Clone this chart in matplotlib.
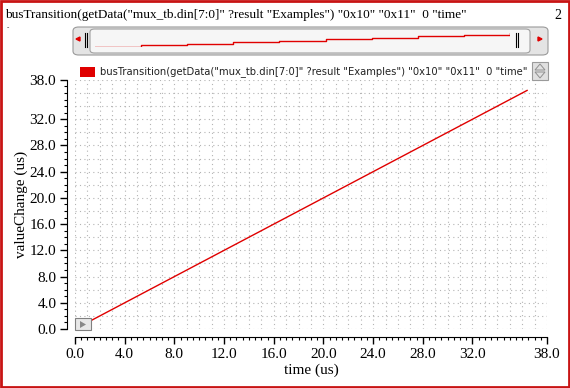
import matplotlib
matplotlib.use("Agg")
import matplotlib.pyplot as plt
from matplotlib.patches import FancyBboxPatch, Rectangle, Polygon
from matplotlib.ticker import FixedLocator, MultipleLocator, FormatStrFormatter

# --- dados ---
expr = 'busTransition(getData("mux_tb.din[7:0]" ?result "Examples") "0x10" "0x11"  0 "time"'
tempo = [0.4, 4.4, 8.4, 12.4, 16.4, 20.4, 24.4, 28.4, 32.4, 36.4]        # us
valor = [0.4, 4.4, 8.4, 12.4, 16.4, 20.4, 24.4, 28.4, 32.4, 36.4]        # us
xlim = (0.0, 38.0)
ylim = (0.0, 38.0)
ticks_x = [0, 4, 8, 12, 16, 20, 24, 28, 32, 38]
ticks_y = [0, 4, 8, 12, 16, 20, 24, 28, 32, 38]
cor = "#e00000"
serif = "Liberation Serif"

fig = plt.figure(figsize=(5.7, 3.88), dpi=100)
fig.patch.set_facecolor("white")

# borda vermelha
fig.patches.append(Rectangle((0.002, 0.003), 0.996, 0.994, transform=fig.transFigure,
                             fill=False, edgecolor="#c81414", linewidth=2))

# titulo
fig.text(0.009, 0.978, expr, family=serif, fontsize=9.5, va="top", ha="left")
fig.text(0.985, 0.978, "2", family=serif, fontsize=10, va="top", ha="right")
fig.text(0.012, 0.935, "-", family=serif, fontsize=5, va="top", ha="left")

# barra de rolagem
W, H = 570.0, 388.0
def fx(px): return px / W
def fy(py): return 1 - py / H

fig.patches.append(FancyBboxPatch((fx(73), fy(55)), fx(548) - fx(73), fy(27) - fy(55),
                                  boxstyle="round,pad=0,rounding_size=0.01",
                                  transform=fig.transFigure, facecolor="#e4e4e4",
                                  edgecolor="#9a9a9a", linewidth=0.8))
fig.patches.append(FancyBboxPatch((fx(90), fy(53)), fx(530) - fx(90), fy(29) - fy(53),
                                  boxstyle="round,pad=0,rounding_size=0.008",
                                  transform=fig.transFigure, facecolor="#f6f6f6",
                                  edgecolor="#a0a0a0", linewidth=0.8))
for px in (84.5, 86.5, 515.5, 517.5):
    fig.add_artist(plt.Line2D([fx(px), fx(px)], [fy(33), fy(47)], transform=fig.transFigure,
                              color="black", linewidth=0.8))
fig.patches.append(Polygon([(fx(76), fy(39)), (fx(80), fy(37)), (fx(80), fy(41))],
                           transform=fig.transFigure, facecolor=cor, edgecolor=cor))
fig.patches.append(Polygon([(fx(542), fy(39)), (fx(538), fy(37)), (fx(538), fy(41))],
                           transform=fig.transFigure, facecolor=cor, edgecolor=cor))

mini = fig.add_axes([fx(95), fy(47), fx(510) - fx(95), fy(33) - fy(47)], zorder=5)
mini.step(tempo, valor, where="post", color=cor, linewidth=1)
mini.set_xlim(tempo[0], tempo[-1])
mini.set_ylim(tempo[0], tempo[-1])
mini.patch.set_visible(False)
mini.axis("off")

# grafico principal
ax = fig.add_axes([0.1316, 0.152, 0.828, 0.642])
ax.plot(tempo, valor, color=cor, linewidth=1)
ax.set_xlim(*xlim)
ax.set_ylim(*ylim)

ax.xaxis.set_major_locator(FixedLocator(ticks_x))
ax.xaxis.set_minor_locator(MultipleLocator(0.5))
ax.yaxis.set_major_locator(FixedLocator(ticks_y))
ax.yaxis.set_minor_locator(MultipleLocator(1))
ax.xaxis.set_major_formatter(FormatStrFormatter("%.1f"))
ax.yaxis.set_major_formatter(FormatStrFormatter("%.1f"))

ax.spines["top"].set_visible(False)
ax.spines["right"].set_visible(False)
ax.spines["left"].set_position(("outward", 6))
ax.spines["bottom"].set_position(("outward", 6))
ax.tick_params(which="major", direction="out", length=5, width=1, labelsize=11, pad=2.5)
ax.tick_params(which="minor", direction="out", length=2.5, width=0.8)
for lab in ax.get_xticklabels() + ax.get_yticklabels():
    lab.set_family(serif)

# grade pontilhada
for xv in range(0, 39):
    ax.axvline(xv, color="#b4b4b4", linestyle=(0, (1, 3)), linewidth=0.8, zorder=0)
for yv in range(0, 39, 2):
    ax.axhline(yv, color="#b4b4b4", linestyle=(0, (1, 3)), linewidth=0.8, zorder=0)

ax.set_xlabel("time (us)", family=serif, fontsize=11, labelpad=2)
ax.set_ylabel("valueChange (us)", family=serif, fontsize=11, labelpad=1)

# botao no canto inferior
fig.patches.append(Rectangle((fx(75), fy(330)), fx(91) - fx(75), fy(318) - fy(330),
                             transform=fig.transFigure, facecolor="#e8e8e8",
                             edgecolor="#808080", linewidth=0.8))
fig.patches.append(Polygon([(fx(80), fy(321)), (fx(80), fy(328)), (fx(86), fy(324.5))],
                           transform=fig.transFigure, facecolor="#888888", edgecolor="none"))

# legenda
fig.patches.append(Rectangle((fx(80), fy(77)), fx(95) - fx(80), fy(67) - fy(77),
                             transform=fig.transFigure, facecolor=cor, edgecolor="none"))
fig.text(fx(100), fy(72), expr, family="DejaVu Sans", fontsize=7.2, va="center", ha="left",
         color="#222222")
fig.patches.append(Rectangle((fx(532), fy(80)), fx(548) - fx(532), fy(62) - fy(80),
                             transform=fig.transFigure, facecolor="#e0e0e0",
                             edgecolor="#9a9a9a", linewidth=0.8))
fig.patches.append(Polygon([(fx(535), fy(70)), (fx(545), fy(70)), (fx(540), fy(64))],
                           transform=fig.transFigure, fill=False, edgecolor="#909090", linewidth=0.7))
fig.patches.append(Polygon([(fx(535), fy(72)), (fx(545), fy(72)), (fx(540), fy(78))],
                           transform=fig.transFigure, fill=False, edgecolor="#909090", linewidth=0.7))

fig.savefig("out.png", dpi=100)
